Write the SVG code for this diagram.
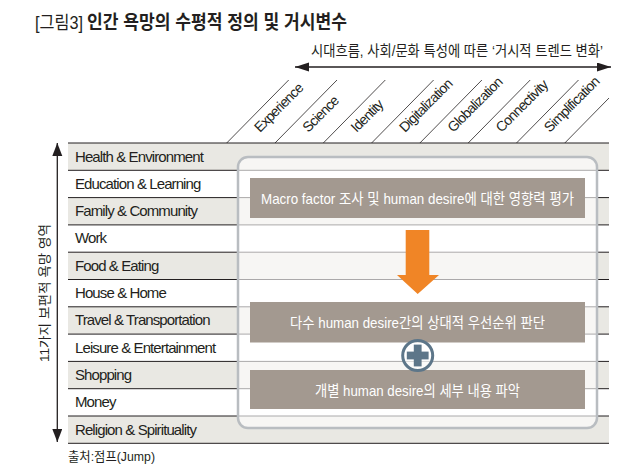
<svg xmlns="http://www.w3.org/2000/svg" width="640" height="473" viewBox="0 0 640 473">
<defs>
<style>
.t{font-family:"Liberation Sans","Noto Sans CJK KR",sans-serif;fill:#231f20}
.row{font-size:15px;letter-spacing:-0.9px}
.diag{font-size:14px;letter-spacing:-0.8px}
.grey{fill:#e9e8e3}
.rl{stroke:#231f20;stroke-width:1}
.dl{stroke:#231f20;stroke-width:0.8}
.box{fill:#a39990}
.bt{font-family:"Liberation Sans","Noto Sans CJK KR",sans-serif;fill:#ffffff;font-size:15px;text-anchor:middle}
</style>
<marker id="ah" markerUnits="userSpaceOnUse" markerWidth="14" markerHeight="10" refX="14" refY="4.5" orient="auto-start-reverse">
<path d="M0,0 L14,4.5 L0,9 z" fill="#231f20"/>
</marker>
<marker id="av" markerUnits="userSpaceOnUse" markerWidth="14" markerHeight="11" refX="13" refY="5" orient="auto-start-reverse">
<path d="M0,0 L13,5 L0,10 z" fill="#231f20"/>
</marker>
</defs>
<rect width="640" height="473" fill="#ffffff"/>

<g id="title">
<text class="t" x="35" y="29" font-size="18" textLength="48" lengthAdjust="spacingAndGlyphs">[그림3]</text>
<text class="t" x="87" y="29" font-size="19" font-weight="bold" textLength="260" lengthAdjust="spacingAndGlyphs">인간 욕망의 수평적 정의 및 거시변수</text>
</g>

<g id="trend-axis">
<text class="t" x="311" y="56" font-size="15" textLength="292" lengthAdjust="spacingAndGlyphs">시대흐름, 사회/문화 특성에 따른 ‘거시적 트렌드 변화’</text>
</g>

<g id="rows">
<rect class="grey" x="68" y="143" width="541" height="27.3"/>
<rect class="grey" x="68" y="197.6" width="541" height="27.3"/>
<rect class="grey" x="68" y="252.2" width="541" height="27.3"/>
<rect class="grey" x="68" y="306.8" width="541" height="27.3"/>
<rect class="grey" x="68" y="361.4" width="541" height="27.3"/>
<rect class="grey" x="68" y="416" width="541" height="27.3"/>
<line class="rl" x1="68" y1="143" x2="609" y2="143" stroke-width="1.3"/>
<line class="rl" x1="68" y1="170.3" x2="609" y2="170.3"/>
<line class="rl" x1="68" y1="197.6" x2="609" y2="197.6"/>
<line class="rl" x1="68" y1="224.9" x2="609" y2="224.9"/>
<line class="rl" x1="68" y1="252.2" x2="609" y2="252.2"/>
<line class="rl" x1="68" y1="279.5" x2="609" y2="279.5"/>
<line class="rl" x1="68" y1="306.8" x2="609" y2="306.8"/>
<line class="rl" x1="68" y1="334.1" x2="609" y2="334.1"/>
<line class="rl" x1="68" y1="361.4" x2="609" y2="361.4"/>
<line class="rl" x1="68" y1="388.7" x2="609" y2="388.7"/>
<line class="rl" x1="68" y1="416" x2="609" y2="416"/>
<line class="rl" x1="68" y1="443.3" x2="609" y2="443.3" stroke-width="1.3"/>
<text class="t row" x="75" y="161.5">Health &amp; Environment</text>
<text class="t row" x="75" y="188.8">Education &amp; Learning</text>
<text class="t row" x="75" y="216.1">Family &amp; Community</text>
<text class="t row" x="75" y="243.4">Work</text>
<text class="t row" x="75" y="270.7">Food &amp; Eating</text>
<text class="t row" x="75" y="298">House &amp; Home</text>
<text class="t row" x="75" y="325.3">Travel &amp; Transportation</text>
<text class="t row" x="75" y="352.6">Leisure &amp; Entertainment</text>
<text class="t row" x="75" y="379.9">Shopping</text>
<text class="t row" x="75" y="407.2">Money</text>
<text class="t row" x="75" y="434.5">Religion &amp; Spirituality</text>
</g>

<g id="macro-factors">
<line class="dl" x1="226.7" y1="143" x2="288.7" y2="80"/>
<line class="dl" x1="275" y1="143" x2="337" y2="80"/>
<line class="dl" x1="323.3" y1="143" x2="385.3" y2="80"/>
<line class="dl" x1="371.6" y1="143" x2="433.6" y2="80"/>
<line class="dl" x1="419.9" y1="143" x2="481.9" y2="80"/>
<line class="dl" x1="468.2" y1="143" x2="530.2" y2="80"/>
<line class="dl" x1="516.5" y1="143" x2="578.5" y2="80"/>
<line class="dl" x1="564.8" y1="143" x2="609" y2="98"/>
<text class="t diag" transform="translate(260,133) rotate(-45)">Experience</text>
<text class="t diag" transform="translate(308.3,133) rotate(-45)">Science</text>
<text class="t diag" transform="translate(356.6,133) rotate(-45)">Identity</text>
<text class="t diag" transform="translate(404.9,133) rotate(-45)">Digitalization</text>
<text class="t diag" transform="translate(453.2,133) rotate(-45)">Globalization</text>
<text class="t diag" transform="translate(501.5,133) rotate(-45)">Connectivity</text>
<text class="t diag" transform="translate(549.8,133) rotate(-45)">Simplification</text>
</g>

<g id="desire-axis">
<text class="t" transform="translate(49,293) rotate(-90)" font-size="13" text-anchor="middle" textLength="138" lengthAdjust="spacingAndGlyphs">11가지 보편적 욕망 영역</text>
</g>

<g id="panel">
<rect x="238" y="157" width="359" height="271" rx="10" fill="#ffffff" fill-opacity="0.62" stroke="#b9bdc1" stroke-width="2.5"/>
</g>

<g id="step1">
<rect class="box" x="250" y="178" width="335" height="40"/>
<text class="bt" x="417.5" y="204" textLength="313" lengthAdjust="spacingAndGlyphs">Macro factor 조사 및 human desire에 대한 영향력 평가</text>
</g>

<g id="step2">
<rect class="box" x="250" y="302" width="335" height="40.5"/>
<text class="bt" x="417.5" y="327.5" textLength="255" lengthAdjust="spacingAndGlyphs">다수 human desire간의 상대적 우선순위 판단</text>
</g>

<g id="step3">
<rect class="box" x="250" y="370" width="335" height="39"/>
<text class="bt" x="417.5" y="395.5" textLength="205" lengthAdjust="spacingAndGlyphs">개별 human desire의 세부 내용 파악</text>
</g>

<g id="plus">
<circle cx="417.7" cy="355.5" r="15" fill="#ffffff" fill-opacity="0.5" stroke="#5d7689" stroke-width="3"/>
<rect x="406.8" y="351.6" width="21.8" height="7.8" fill="#5d7689"/>
<rect x="413.8" y="344.6" width="7.8" height="21.8" fill="#5d7689"/>
</g>

<g id="connectors">
<line x1="295" y1="67" x2="611" y2="67" stroke="#231f20" stroke-width="1.3" marker-start="url(#ah)" marker-end="url(#ah)"/>
<line x1="57.3" y1="143" x2="57.3" y2="442" stroke="#231f20" stroke-width="1.3" marker-start="url(#av)" marker-end="url(#av)"/>
<polygon points="405.7,230 429.3,230 429.3,275 439,275 417.7,294 397,275 405.7,275" fill="#f08526"/>
</g>

<g id="source">
<text class="t" x="68" y="461" font-size="13" textLength="87" lengthAdjust="spacingAndGlyphs">출처:점프(Jump)</text>
</g>
</svg>
